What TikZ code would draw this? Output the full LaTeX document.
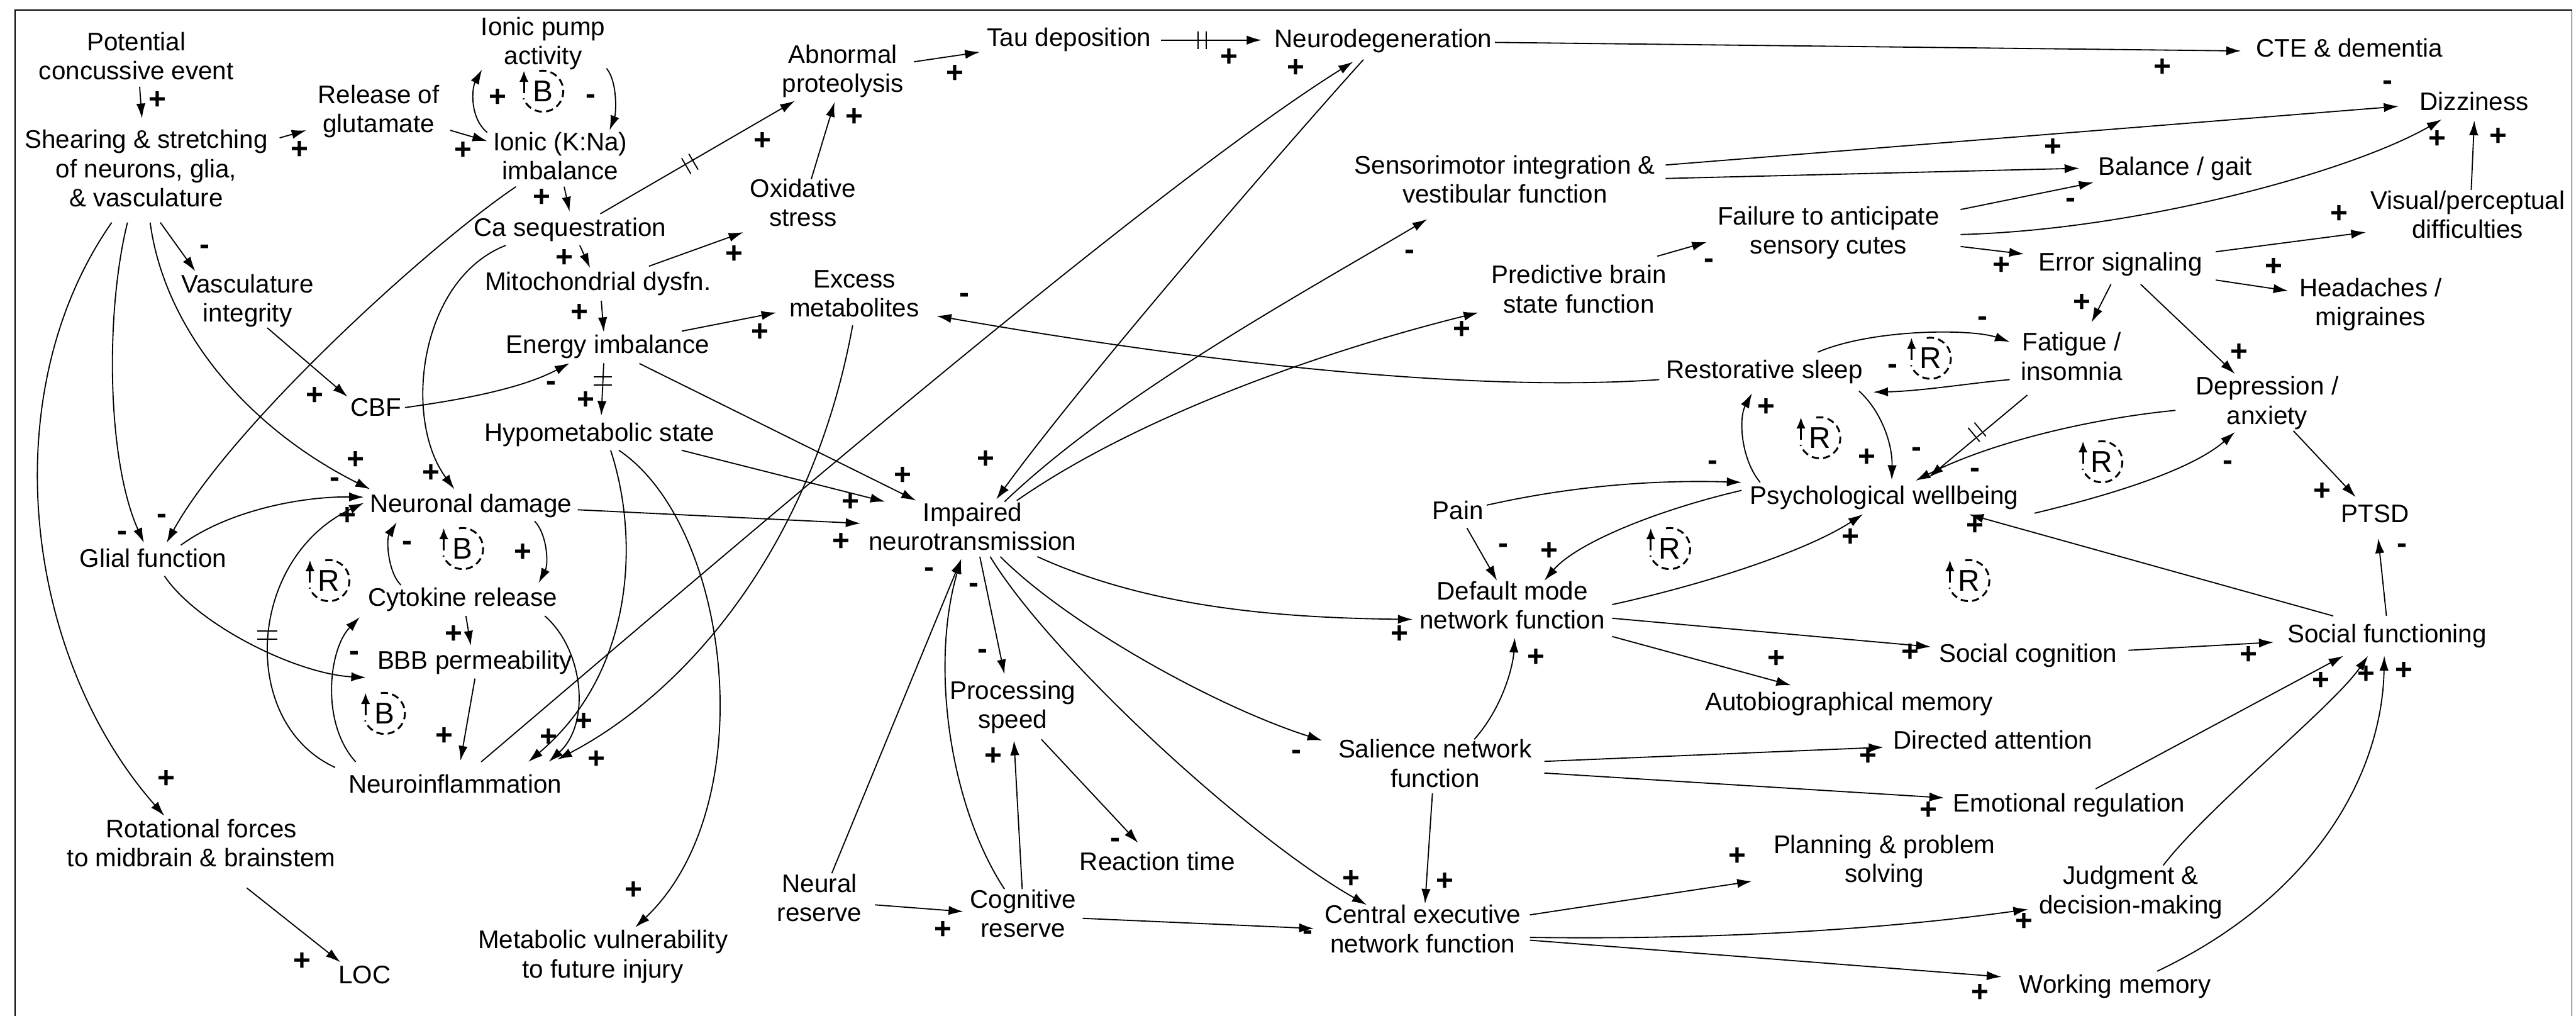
\documentclass[tikz,border=0pt]{standalone}
\usepackage{fontspec}
\setmainfont{Liberation Sans}
\usetikzlibrary{arrows.meta,calc}
\newcommand{\cldloop}[4]{%
  \node[looplbl] (#1) at (#2,#3) {#4};
  \draw[dash pattern=on 0.22cm off 0.13cm, line width=1.6pt] ($(#1)+(-2.2,-12.3)$) arc[start angle=-100, end angle=160, radius=12.5];
  \draw[line width=1.6pt, -{Latex[length=0.34cm,width=0.28cm]}] ($(#1)+(-11.5,1)$) -- ($(#1)+(-11.5,-12.5)$);
}
\begin{document}
\begin{tikzpicture}[x=0.05cm, y=-0.05cm,
  lbl/.style={align=center, inner sep=0pt, font=\fontsize{22}{25.2}\selectfont},
  arr/.style={draw, line width=1pt, -{Latex[length=0.45cm, width=0.28cm]}},
  pol/.style={inner sep=0pt, text height=0.62em, text depth=0pt, font=\fontsize{26}{28}\selectfont\bfseries},
  looplbl/.style={inner sep=0pt, font=\fontsize{26}{28}\selectfont},
  frame/.style={draw, line width=1pt}]
\useasboundingbox (0,0) rectangle (1568,618.06);
\draw[frame] (9.2,618.06) -- (9.2,6.2) -- (1565.5,6.2) -- (1565.5,618.06);

% ---------- nodes ----------
\node[lbl] (pce) at (83,36.2) {\strut Potential\\\strut concussive event};
\node[lbl] (shr) at (89,104.5) {\strut Shearing \& stretching\\\strut of neurons, glia,\\\strut \& vasculature};
\node[lbl] (rel) at (230.5,68.2) {\strut Release of\\\strut glutamate};
\node[lbl] (pump) at (330.6,26.8) {\strut Ionic pump\\\strut activity};
\node[lbl] (ionic) at (341,97) {\strut Ionic (K:Na)\\\strut imbalance};
\node[lbl] (ca) at (347,140.2) {\strut Ca sequestration};
\node[lbl] (mito) at (364,173.2) {\strut Mitochondrial dysfn.};
\node[lbl] (energy) at (370,211.5) {\strut Energy imbalance};
\node[lbl] (hypo) at (365,265.1) {\strut Hypometabolic state};
\node[lbl] (vasc) at (150.7,183.5) {\strut Vasculature\\\strut integrity};
\node[lbl] (cbf) at (229,249.8) {\strut CBF};
\node[lbl] (nd) at (286.6,308.2) {\strut Neuronal damage};
\node[lbl] (glial) at (93.2,341.5) {\strut Glial function};
\node[lbl] (cyto) at (281.6,365.2) {\strut Cytokine release};
\node[lbl] (bbb) at (289,403.4) {\strut BBB permeability};
\node[lbl] (ninf) at (277,478.8) {\strut Neuroinflammation};
\node[lbl] (rot) at (122.6,515) {\strut Rotational forces\\\strut to midbrain \& brainstem};
\node[lbl] (loc) at (222,595) {\strut LOC};
\node[lbl] (metv) at (367,582.5) {\strut Metabolic vulnerability\\\strut to future injury};
\node[lbl] (abn) at (513,43.8) {\strut Abnormal\\\strut proteolysis};
\node[lbl] (tau) at (650.7,24.6) {\strut Tau deposition};
\node[lbl] (ndeg) at (842,25.3) {\strut Neurodegeneration};
\node[lbl] (cte) at (1430,31.2) {\strut CTE \& dementia};
\node[lbl] (oxs) at (488.8,125.3) {\strut Oxidative\\\strut stress};
\node[lbl] (exm) at (520,180.5) {\strut Excess\\\strut metabolites};
\node[lbl] (imp) at (592,322.5) {\strut Impaired\\\strut neurotransmission};
\node[lbl] (proc) at (616.4,430.8) {\strut Processing\\\strut speed};
\node[lbl] (react) at (704.5,526) {\strut Reaction time};
\node[lbl] (nres) at (498.8,548.3) {\strut Neural\\\strut reserve};
\node[lbl] (cres) at (622.7,557.9) {\strut Cognitive\\\strut reserve};
\node[lbl] (sens) at (916,111.1) {\strut Sensorimotor integration \&\\\strut vestibular function};
\node[lbl] (pred) at (961,177.9) {\strut Predictive brain\\\strut state function};
\node[lbl] (fail) at (1113,142.2) {\strut Failure to anticipate\\\strut sensory cutes};
\node[lbl] (bal) at (1324,103.2) {\strut Balance / gait};
\node[lbl] (dizz) at (1506,63.6) {\strut Dizziness};
\node[lbl] (vis) at (1502,132.6) {\strut Visual/perceptual\\\strut difficulties};
\node[lbl] (err) at (1290.6,161.3) {\strut Error signaling};
\node[lbl] (head) at (1443,185.8) {\strut Headaches /\\\strut migraines};
\node[lbl] (rest) at (1074,226.9) {\strut Restorative sleep};
\node[lbl] (fat) at (1261,218.9) {\strut Fatigue /\\\strut insomnia};
\node[lbl] (dep) at (1380,245.7) {\strut Depression /\\\strut anxiety};
\node[lbl] (pain) at (887.4,312.4) {\strut Pain};
\node[lbl] (psy) at (1147,303.3) {\strut Psychological wellbeing};
\node[lbl] (ptsd) at (1445.6,314.5) {\strut PTSD};
\node[lbl] (dmn) at (920.5,370.4) {\strut Default mode\\\strut network function};
\node[lbl] (socc) at (1234.5,399.2) {\strut Social cognition};
\node[lbl] (socf) at (1453,387.4) {\strut Social functioning};
\node[lbl] (abm) at (1125.5,428.8) {\strut Autobiographical memory};
\node[lbl] (sal) at (873.5,466.5) {\strut Salience network\\\strut function};
\node[lbl] (datt) at (1213,452.1) {\strut Directed attention};
\node[lbl] (emo) at (1259.4,490.4) {\strut Emotional regulation};
\node[lbl] (plan) at (1147,524.4) {\strut Planning \& problem\\\strut solving};
\node[lbl] (cen) at (866,567.2) {\strut Central executive\\\strut network function};
\node[lbl] (judg) at (1297,543.5) {\strut Judgment \&\\\strut decision-making};
\node[lbl] (wm) at (1287.4,600.7) {\strut Working memory};

% ---------- connectors ----------
\draw[arr] ($(pce)+(2,16.6)$) -- ($(shr)+(-2.6,-32.5)$);
\draw[arr] ($(shr)+(81.2,-20.6)$) -- ($(rel)+(-44,11.1)$);
\draw[arr] ($(rel)+(43.6,11.1)$) -- ($(ionic)+(-44.4,-11.1)$);
\draw[arr] ($(ionic)+(-44.4,-16.4)$) .. controls (286,72) and (287,54) .. ($(pump)+(-37.2,15.5)$);
\draw[arr] ($(pump)+(38.6,14.8)$) .. controls (376,50) and (375,69) .. ($(ionic)+(30,-17.7)$);
\draw[arr] ($(ionic)+(2.4,16.6)$) -- ($(ca)+(-0.3,-11.4)$);
\draw[arr] ($(ca)+(5.9,9.1)$) -- ($(mito)+(-4.8,-10.1)$);
\draw[arr] ($(mito)+(2,9.8)$) -- ($(energy)+(-2.5,-9.4)$);
\draw[arr] ($(energy)+(-2.5,9.5)$) -- ($(hypo)+(1,-12.1)$);
\draw[arr] ($(ca)+(18.4,-10.1)$) -- ($(abn)+(-29.2,17.6)$);
\draw[arr] ($(oxs)+(5,-16.3)$) -- ($(abn)+(-5,18.3)$);
\draw[arr] ($(abn)+(43.3,-6.2)$) -- ($(tau)+(-54.3,7.1)$);
\draw[arr] ($(tau)+(55.8,-0.2)$) -- ($(ndeg)+(-74.1,-0.9)$);
\draw[arr] ($(ndeg)+(68,0.5)$) -- ($(cte)+(-65.9,-0.2)$);
\draw[arr] ($(mito)+(31,-11.2)$) -- ($(oxs)+(-36.3,16)$);
\draw[arr] ($(energy)+(45,-10)$) -- ($(exm)+(-47.5,9.7)$);
\draw[arr] ($(rest)+(-64,4.1)$) .. controls (880,240) and (700,215) .. ($(exm)+(50.1,11.7)$);
\draw[arr] ($(exm)+(-1,17.5)$) .. controls (495,330) and (420,420) .. ($(ninf)+(62.2,-16.6)$);
\draw[arr] ($(ninf)+(15.9,-15.2)$) .. controls (450,330) and (700,115) .. ($(ndeg)+(-18.4,12.3)$);
\draw[arr] ($(ndeg)+(-12.1,11)$) .. controls (785,86) and (661,229) .. ($(imp)+(14.4,-18.6)$);
\draw[arr] ($(hypo)+(49.9,8.9)$) -- ($(imp)+(-53.2,-17.2)$);
\draw[arr] ($(energy)+(19.2,9.7)$) -- ($(imp)+(-34.4,-17.9)$);
\draw[arr] ($(nd)+(65.1,2)$) -- ($(imp)+(-68.2,-4)$);
\draw[arr] ($(ionic)+(-26.9,16.6)$) .. controls (260,150) and (140,260) .. ($(glial)+(8.2,-11.2)$);
\draw[arr] ($(shr)+(-11.4,30.9)$) .. controls (64,190) and (65,280) .. ($(glial)+(-5.6,-11.2)$);
\draw[arr] ($(shr)+(-21,30.9)$) .. controls (-5,240) and (15,400) .. ($(rot)+(-22.5,-18.5)$);
\draw[arr] ($(shr)+(2.4,30.9)$) .. controls (100,200) and (150,260) .. ($(nd)+(-61.3,-10.5)$);
\draw[arr] ($(shr)+(8.6,30.9)$) -- ($(vasc)+(-31.8,-18.4)$);
\draw[arr] ($(vasc)+(12,16)$) -- ($(cbf)+(-17.5,-8.4)$);
\draw[arr] ($(cbf)+(17.5,-1.8)$) .. controls (290,242) and (320,235) .. ($(energy)+(-23.3,9.5)$);
\draw[arr] ($(glial)+(16.9,-9.8)$) .. controls (140,310) and (185,302) .. ($(nd)+(-65.1,-5.7)$);
\draw[arr] ($(ca)+(-39.1,9.1)$) .. controls (255,170) and (245,255) .. ($(nd)+(-10,-10.5)$);
\draw[arr] ($(ninf)+(-73,-11.8)$) .. controls (145,440) and (150,340) .. ($(nd)+(-65.1,-2.2)$);
\draw[arr] ($(ninf)+(-60.5,-15.2)$) .. controls (195,440) and (200,395) .. ($(cyto)+(-62.6,10.3)$);
\draw[arr] ($(glial)+(6.9,9)$) .. controls (120,380) and (180,410) .. ($(bbb)+(-66.2,8.9)$);
\draw[arr] ($(bbb)+(0.1,9.5)$) -- ($(ninf)+(3.3,-15.9)$);
\draw[arr] ($(cyto)+(2,9.6)$) -- ($(bbb)+(-2.4,-10.5)$);
\draw[arr] ($(nd)+(38.8,8.9)$) .. controls (333,325) and (334,343) .. ($(cyto)+(46.3,-10.5)$);
\draw[arr] ($(cyto)+(-37.6,-9.2)$) .. controls (236,348) and (235,328) .. ($(nd)+(-45.1,9.6)$);
\draw[arr] ($(cyto)+(50,9.6)$) .. controls (355,395) and (360,440) .. ($(ninf)+(57,-15.2)$);
\draw[arr] ($(hypo)+(6.7,8.9)$) .. controls (390,330) and (385,410) .. ($(ninf)+(44.6,-15.2)$);
\draw[arr] ($(hypo)+(11.7,8.9)$) .. controls (445,320) and (465,490) .. ($(metv)+(19.7,-18.2)$);
\draw[arr] ($(rot)+(27.6,25.3)$) -- ($(loc)+(-14.8,-9.5)$);
\draw[arr] ($(imp)+(4.4,16.2)$) -- ($(proc)+(-5,-20.5)$);
\draw[arr] ($(nres)+(7.5,-16.9)$) -- ($(imp)+(-6.9,17.6)$);
\draw[arr] ($(cres)+(-11.3,-16.9)$) .. controls (578,490) and (566,405) .. ($(imp)+(-6.9,17.6)$);
\draw[arr] ($(nres)+(33.8,2.3)$) -- ($(cres)+(-36.3,-3.2)$);
\draw[arr] ($(cres)+(-0.5,-16.9)$) -- ($(proc)+(0.8,19.8)$);
\draw[arr] ($(proc)+(17.5,19.1)$) -- ($(react)+(-11.7,-13.1)$);
\draw[arr] ($(cres)+(36.3,0.9)$) -- ($(cen)+(-66.2,-2.2)$);
\draw[arr] ($(imp)+(10.7,16.2)$) .. controls (640,400) and (760,510) .. ($(cen)+(-34.1,-16.6)$);
\draw[arr] ($(imp)+(16.9,16.2)$) .. controls (650,380) and (740,430) .. ($(sal)+(-68.7,-15.9)$);
\draw[arr] ($(imp)+(39.4,16.2)$) .. controls (700,370) and (780,376) .. ($(dmn)+(-60.6,6.5)$);
\draw[arr] ($(imp)+(19.4,-17.2)$) .. controls (680,240) and (790,180) .. ($(sens)+(-47.3,22.3)$);
\draw[arr] ($(imp)+(26.9,-17.9)$) .. controls (690,255) and (800,215) .. ($(pred)+(-61.1,12.3)$);
\draw[arr] ($(pred)+(47.8,-22)$) -- ($(fail)+(-74.1,5.1)$);
\draw[arr] ($(sens)+(97.8,-10.7)$) -- ($(dizz)+(-46,1.1)$);
\draw[arr] ($(sens)+(97.8,-2.5)$) -- ($(bal)+(-58.3,-0.8)$);
\draw[arr] ($(fail)+(80.4,-14.7)$) -- ($(bal)+(-49.6,7.8)$);
\draw[arr] ($(fail)+(80.4,0.5)$) .. controls (1300,140) and (1430,105) .. ($(dizz)+(-19.8,9.1)$);
\draw[arr] ($(vis)+(2.2,-17)$) -- ($(dizz)+(0.1,9.7)$);
\draw[arr] ($(fail)+(80.4,7.8)$) -- ($(err)+(-58.6,-6.7)$);
\draw[arr] ($(err)+(58.1,-8.1)$) -- ($(vis)+(-61.9,8.7)$);
\draw[arr] ($(err)+(58.1,9.1)$) -- ($(head)+(-50.2,-8.8)$);
\draw[arr] ($(err)+(-5.7,11.7)$) -- ($(fat)+(12.1,-22.7)$);
\draw[arr] ($(err)+(12.4,11.7)$) -- ($(dep)+(-19.6,-18.2)$);
\draw[arr] ($(rest)+(32.4,-12.6)$) .. controls (1140,200) and (1200,200) .. ($(fat)+(-37.7,-10.9)$);
\draw[arr] ($(fat)+(-37.7,12.1)$) .. controls (1200,233) and (1170,238) .. ($(rest)+(66.2,11.7)$);
\draw[arr] ($(fat)+(-27,21.5)$) -- ($(psy)+(27,-12.8)$);
\draw[arr] ($(dep)+(-55.8,4)$) .. controls (1270,255) and (1210,270) .. ($(psy)+(19,-10.8)$);
\draw[arr] ($(psy)+(91.3,9)$) .. controls (1290,300) and (1335,285) .. ($(dep)+(-19.6,17.2)$);
\draw[arr] ($(dep)+(16,16.5)$) -- ($(ptsd)+(-11.7,-12)$);
\draw[arr] ($(socf)+(-0.4,-12.6)$) -- ($(ptsd)+(2,13.1)$);
\draw[arr] ($(socf)+(-32.8,-12.6)$) -- ($(psy)+(51.4,9.7)$);
\draw[arr] ($(socc)+(61.1,-3.5)$) -- ($(socf)+(-69,3.4)$);
\draw[arr] ($(emo)+(16.2,-10.4)$) -- ($(socf)+(-26.6,11.7)$);
\draw[arr] ($(judg)+(19.7,-16.9)$) .. controls (1345,490) and (1420,430) .. ($(socf)+(-11.6,11.7)$);
\draw[arr] ($(wm)+(25.6,-9.7)$) .. controls (1410,545) and (1450,470) .. ($(socf)+(-1.7,11.7)$);
\draw[arr] ($(cen)+(65.2,-10.5)$) -- ($(plan)+(-80.6,11.8)$);
\draw[arr] ($(cen)+(65.2,3.2)$) .. controls (1050,572) and (1150,565) .. ($(judg)+(-62.5,9.8)$);
\draw[arr] ($(cen)+(65.2,4.9)$) -- ($(wm)+(-69.1,-6.3)$);
\draw[arr] ($(sal)+(23.9,-16.6)$) .. controls (915,430) and (921,405) .. ($(dmn)+(1.5,17.6)$);
\draw[arr] ($(sal)+(66.5,-3.2)$) -- ($(datt)+(-66.5,2.6)$);
\draw[arr] ($(sal)+(66.5,3.9)$) -- ($(emo)+(-76,-4.9)$);
\draw[arr] ($(sal)+(-1.6,16.3)$) -- ($(cen)+(1.4,-17.3)$);
\draw[arr] ($(dmn)+(60.8,-2.5)$) .. controls (1040,355) and (1100,335) .. ($(psy)+(-13,9.6)$);
\draw[arr] ($(psy)+(-86.9,-4.9)$) .. controls (1010,310) and (960,330) .. ($(dmn)+(19.5,-17.1)$);
\draw[arr] ($(pain)+(17.5,-5)$) .. controls (960,295) and (1010,292) .. ($(psy)+(-86.9,-9.8)$);
\draw[arr] ($(pain)+(5.5,8.9)$) -- ($(dmn)+(-9.3,-17.1)$);
\draw[arr] ($(psy)+(-75.6,-9.8)$) .. controls (1060,280) and (1058,255) .. ($(rest)+(-7.6,12.4)$);
\draw[arr] ($(rest)+(57.5,11)$) .. controls (1145,250) and (1152,270) .. ($(psy)+(4.5,-11.2)$);
\draw[arr] ($(dmn)+(60.8,5.8)$) -- ($(socc)+(-59.2,-5.6)$);
\draw[arr] ($(dmn)+(60.8,16.9)$) -- ($(abm)+(-35.3,-11.8)$);

% ---------- delay marks ----------
\draw[line width=1pt] (414.9,96.2) -- (420.5,105.8) (419.3,93.6) -- (424.9,103.2);
\draw[line width=1pt] (729.1,19) -- (729.1,30) (734.1,19) -- (734.1,30);
\draw[line width=1pt] (361.5,229.4) -- (372.5,229.4) (361.5,234.4) -- (372.5,234.4);
\draw[line width=1pt] (156.5,384) -- (169,384) (156.5,389) -- (169,389);
\draw[line width=1pt] (1198,260.3) -- (1205,268.7) (1201.8,257.1) -- (1208.8,265.5);

% ---------- polarity signs ----------
\foreach \px/\py [count=\i] in {95.9/64.1, 182.2/94.5, 282.1/94.8, 302.9/62.7, 329.9/123.5, 343.4/160.5,
  352.9/193.5, 356.7/247, 464.2/89.2, 520/74.6, 581.4/48.2, 748.3/38.3, 1316.3/44.3, 447/157.9,
  462.5/205.4, 788.6/44.9, 600.2/283, 549.6/292.8, 517.6/308.8, 511.9/333.1, 101.4/477.3,
  216.5/283.1, 191.5/244.2, 262.3/291.4, 211.5/317.1, 270.3/451.3, 276.1/389.4, 318.4/339.4,
  355.4/442.3, 334.1/452, 363/465.6, 385.5/545.1, 184/588.2, 573.9/569.1, 604.7/463.6,
  822.3/538.2, 852/389.4, 889.9/204, 1249.5/93.1, 1483.7/87.8, 1520.6/86.5, 1218.3/165.1,
  1423.9/133.4, 1384/165.8, 1267.4/187.6, 1362.9/217.7, 1413.4/302.5, 1202.1/323.4,
  1368.6/401.9, 1412.7/417.7, 1440.1/413.6, 1463.3/411.5, 1057.6/524.5, 1232/564.3,
  1205.1/607.4, 935/403.3, 1137.2/463.6, 1174/496.5, 879.4/539.6, 1126.5/330.3, 943/338.7,
  1075.2/251.1, 1136.5/281.7, 1162.8/400.5, 1081.4/404}
  \node[pol] (sp\i) at (\px,\py) {+};
\foreach \px/\py [count=\i] in {359.7/61, 335.4/235.8, 586.9/182, 98.4/316.4, 74.6/326.9,
  124.4/152.6, 204/294.2, 215.8/399.8, 247.8/332.8, 598.1/398.9, 592.6/358.6, 565.6/349.1,
  679/513.5, 796.1/569.8, 789.3/460.2, 858.1/155.9, 1040.1/160.9, 1453.3/52.6, 1260.2/124.2,
  1206.6/196.2, 1152/225.4, 1202.1/288.6, 1166.5/276.1, 1356.1/283.8, 1462/334.5,
  1042.6/283.8, 915/334.5}
  \node[pol] (sm\i) at (\px,\py) {-};

% ---------- loop markers ----------
\cldloop{lp1}{330.4}{55.5}{B}
\cldloop{lp2}{281.6}{333.8}{B}
\cldloop{lp3}{200.2}{353.3}{R}
\cldloop{lp4}{234}{434.1}{B}
\cldloop{lp5}{1175}{218}{R}
\cldloop{lp6}{1107.7}{266.4}{R}
\cldloop{lp7}{1279.4}{281}{R}
\cldloop{lp8}{1016.3}{333.8}{R}
\cldloop{lp9}{1198.4}{353.3}{R}
\end{tikzpicture}
\end{document}
